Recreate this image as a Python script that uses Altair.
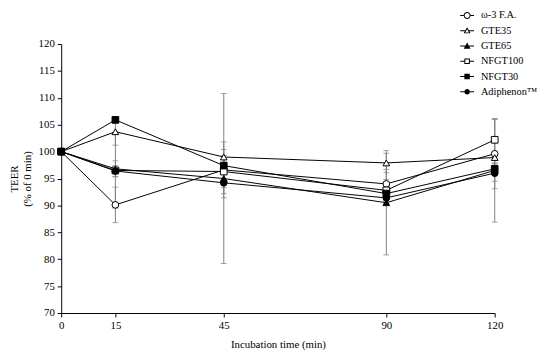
import altair as alt
import pandas as pd

times = [0, 15, 45, 90, 120]
series_names = ["ω-3 F.A.", "GTE35", "GTE65", "NFGT100", "NFGT30", "Adiphenon™"]

omega3 = [100, 90.1, 96.6, 94.0, 99.6]
gte35 = [100, 103.7, 99.0, 97.9, 98.9]
gte65 = [100, 96.8, 95.0, 90.5, 96.5]
nfgt100 = [100, 96.5, 96.3, 92.8, 102.2]
nfgt30 = [100, 105.9, 97.4, 92.2, 96.8]
adiphenon = [100, 96.4, 94.2, 91.4, 96.0]

omega3_err = [0, 3.3, 5.2, 2.7, 6.5]
gte35_err = [0, 2.5, 1.4, 1.8, 1.0]
gte65_err = [0, 1.5, 15.8, 9.7, 9.6]
nfgt100_err = [0, 7.0, 3.0, 2.0, 3.8]
nfgt30_err = [0, 0.4, 1.2, 1.0, 1.0]
adiphenon_err = [0, 1.0, 2.0, 1.0, 1.5]

all_vals = [omega3, gte35, gte65, nfgt100, nfgt30, adiphenon]
all_errs = [omega3_err, gte35_err, gte65_err, nfgt100_err, nfgt30_err, adiphenon_err]

rows = []
for name, vals, errs in zip(series_names, all_vals, all_errs):
    for t, v, e in zip(times, vals, errs):
        rows.append({"series": name, "time": t, "teer": v, "err": e,
                     "lo": v - e, "hi": v + e})
df = pd.DataFrame(rows)
df_err = df[df["err"] > 0]

FONT = "Times New Roman, Liberation Serif, serif"
GRAY = "#808080"

marker_shapes = ["circle", "triangle-up", "triangle-up", "square", "square", "circle"]
marker_fills = ["white", "white", "black", "white", "black", "black"]
line_widths = [1, 1, 1.3, 1.6, 2, 1.3]

# legend glyphs drawn as filled areas only: line stubs + marker (rings/outlines via reversed inner paths)
def stubs(e):
    return f"M-1,-0.07H-{e}V0.07H-1Z M{e},-0.07H1V0.07H{e}Z "

ring = ("M-0.5,0A0.5,0.5,0,1,1,0.5,0A0.5,0.5,0,1,1,-0.5,0Z "
        "M-0.36,0A0.36,0.36,0,1,0,0.36,0A0.36,0.36,0,1,0,-0.36,0Z")
tri_outline = "M0,-0.5L0.5,0.38L-0.5,0.38Z M0,-0.22L-0.27,0.24L0.27,0.24Z"
tri_filled = "M0,-0.5L0.5,0.38L-0.5,0.38Z"
sq_outline = "M-0.4,-0.4H0.4V0.4H-0.4Z M-0.26,-0.26V0.26H0.26V-0.26Z"
sq_filled = "M-0.4,-0.4H0.4V0.4H-0.4Z"
dot = "M-0.4,0A0.4,0.4,0,1,1,0.4,0A0.4,0.4,0,1,1,-0.4,0Z"

legend_paths = [
    stubs(0.5) + ring,
    stubs(0.28) + tri_outline,
    stubs(0.28) + tri_filled,
    stubs(0.4) + sq_outline,
    stubs(0.4) + sq_filled,
    stubs(0.4) + dot,
]

xscale = alt.Scale(domain=[0, 120], nice=False, zero=False)
yscale = alt.Scale(domain=[70, 120], nice=False, zero=False)
xaxis = alt.Axis(values=times, grid=False, tickSize=4, labelPadding=3,
                 domainColor="black", tickColor="black", labelColor="black",
                 labelFont=FONT, labelFontSize=11, titleFont=FONT, titleFontSize=11,
                 titleFontWeight="normal", titleColor="black", titlePadding=8,
                 labelFlush=False)
yaxis = alt.Axis(values=list(range(70, 121, 5)), grid=False, tickSize=4, labelPadding=3,
                 domainColor="black", tickColor="black", labelColor="black",
                 labelFont=FONT, labelFontSize=11, titleFont=FONT, titleFontSize=11,
                 titleFontWeight="normal", titleColor="black", titlePadding=6,
                 labelFlush=False)
XT = "Incubation time (min)"
YT = ["TEER", "(% of 0 min)"]


def X(field):
    return alt.X(f"{field}:Q", scale=xscale, axis=xaxis, title=XT)


def Y(field):
    return alt.Y(f"{field}:Q", scale=yscale, axis=yaxis, title=YT)


rules = alt.Chart(df_err).mark_rule(color=GRAY, strokeWidth=1).encode(
    x=X("time"), y=Y("lo"), y2="hi:Q")
cap_lo = alt.Chart(df_err).mark_tick(color=GRAY, orient="horizontal", size=6, thickness=1).encode(
    x=X("time"), y=Y("lo"))
cap_hi = alt.Chart(df_err).mark_tick(color=GRAY, orient="horizontal", size=6, thickness=1).encode(
    x=X("time"), y=Y("hi"))

lines = alt.Chart(df).mark_line(color="black").encode(
    x=X("time"), y=Y("teer"), detail="series:N",
    strokeWidth=alt.StrokeWidth("series:N", scale=alt.Scale(domain=series_names, range=line_widths), legend=None),
)

points = alt.Chart(df).mark_point(color="black", opacity=1, strokeWidth=1, size=46).encode(
    x=X("time"), y=Y("teer"),
    shape=alt.Shape("series:N", scale=alt.Scale(domain=series_names, range=marker_shapes), legend=None),
    fill=alt.Fill("series:N", scale=alt.Scale(domain=series_names, range=marker_fills), legend=None),
)

leg = alt.Legend(orient="none", legendX=405, legendY=-36, title=None, symbolSize=196,
                 symbolStrokeWidth=0, symbolFillColor="black", symbolOpacity=1,
                 labelFont=FONT, labelFontSize=10.5, labelColor="black", labelOffset=7,
                 rowPadding=2.5, padding=0, labelLimit=200)
legend_layer = alt.Chart(df).transform_filter("false").mark_point(
    color="black", filled=True, opacity=1, strokeWidth=0).encode(
    x=X("time"), y=Y("teer"),
    shape=alt.Shape("series:N", scale=alt.Scale(domain=series_names, range=legend_paths), legend=leg),
)

chart = alt.layer(rules, cap_lo, cap_hi, lines, points, legend_layer).resolve_scale(
    shape="independent"
).properties(
    width=440, height=273,
    autosize=alt.AutoSizeParams(type="none"),
    padding={"left": 54, "top": 34, "right": 48, "bottom": 37},
    background="white",
).configure_view(stroke=None)

chart.save("out.html", embed_options={"renderer": "svg", "actions": False})
